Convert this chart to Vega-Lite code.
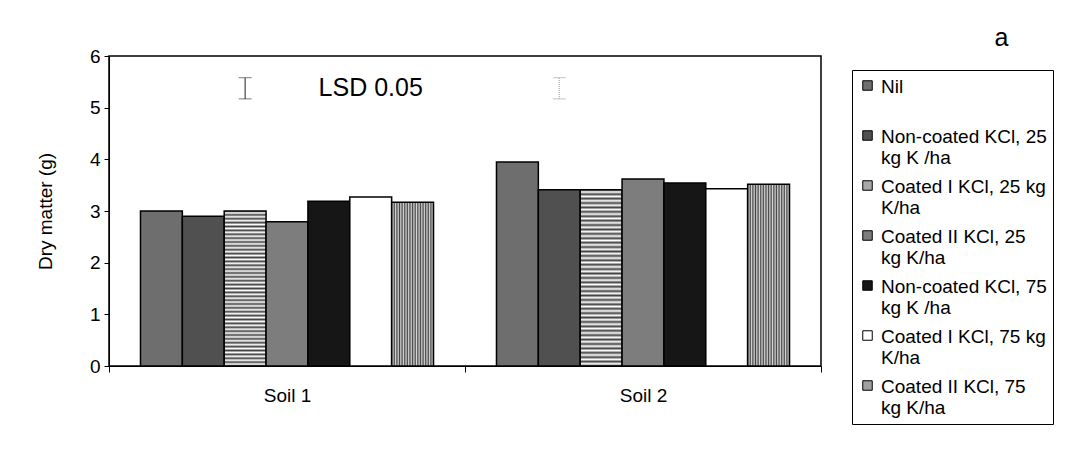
{
  "$schema": "https://vega.github.io/schema/vega-lite/v6.json",
  "width": 712,
  "height": 310,
  "autosize": "none",
  "padding": {"left": 109, "top": 56, "right": 257, "bottom": 89},
  "background": "white",
  "config": {
    "font": "Liberation Sans",
    "view": {"stroke": "black", "strokeWidth": 1.5},
    "axis": {"grid": false, "domainColor": "black", "tickColor": "black", "labelColor": "black", "titleColor": "black", "labelFontSize": 19, "titleFontSize": 19, "titleFontWeight": "normal", "labelFont": "Liberation Sans", "titleFont": "Liberation Sans"},
    "axisY": {"tickSize": 5, "labelPadding": 4, "titlePadding": 34},
    "axisX": {"tickSize": 6, "labelPadding": 14, "labelAngle": 0, "tickBand": "extent"}
  },
  "title": {"text": "a", "anchor": "end", "fontSize": 25, "fontWeight": "normal", "dx": -45, "dy": 14, "offset": 10, "color": "black", "font": "Liberation Sans"},
  "datasets": {
    "dm": [
      {"soil": "Soil 1", "treatment": "Nil", "dm": 3.00},
      {"soil": "Soil 1", "treatment": "Non-coated KCl, 25 kg K /ha", "dm": 2.90},
      {"soil": "Soil 1", "treatment": "Coated I KCl, 25 kg K/ha", "dm": 3.00},
      {"soil": "Soil 1", "treatment": "Coated II KCl, 25 kg K/ha", "dm": 2.79},
      {"soil": "Soil 1", "treatment": "Non-coated KCl, 75 kg K /ha", "dm": 3.19},
      {"soil": "Soil 1", "treatment": "Coated I KCl, 75 kg K/ha", "dm": 3.27},
      {"soil": "Soil 1", "treatment": "Coated II KCl, 75 kg K/ha", "dm": 3.17},
      {"soil": "Soil 2", "treatment": "Nil", "dm": 3.95},
      {"soil": "Soil 2", "treatment": "Non-coated KCl, 25 kg K /ha", "dm": 3.41},
      {"soil": "Soil 2", "treatment": "Coated I KCl, 25 kg K/ha", "dm": 3.41},
      {"soil": "Soil 2", "treatment": "Coated II KCl, 25 kg K/ha", "dm": 3.62},
      {"soil": "Soil 2", "treatment": "Non-coated KCl, 75 kg K /ha", "dm": 3.54},
      {"soil": "Soil 2", "treatment": "Coated I KCl, 75 kg K/ha", "dm": 3.43},
      {"soil": "Soil 2", "treatment": "Coated II KCl, 75 kg K/ha", "dm": 3.52}
    ],
    "lsd": [
      {"soil": "Soil 1", "treatment": "Coated I KCl, 25 kg K/ha", "lo": 5.17, "hi": 5.58},
      {"soil": "Soil 2", "treatment": "Non-coated KCl, 25 kg K /ha", "lo": 5.17, "hi": 5.58}
    ],
    "note": [
      {"soil": "Soil 1", "treatment": "Coated I KCl, 75 kg K/ha", "y": 5.38, "label": "LSD 0.05"}
    ]
  },
  "encoding": {
    "x": {
      "field": "soil", "type": "nominal",
      "scale": {"domain": ["Soil 1", "Soil 2"], "paddingInner": 0, "paddingOuter": 0},
      "axis": {"title": null}
    },
    "xOffset": {
      "field": "treatment", "type": "nominal",
      "scale": {
        "domain": ["Nil", "Non-coated KCl, 25 kg K /ha", "Coated I KCl, 25 kg K/ha", "Coated II KCl, 25 kg K/ha", "Non-coated KCl, 75 kg K /ha", "Coated I KCl, 75 kg K/ha", "Coated II KCl, 75 kg K/ha"],
        "paddingInner": 0, "paddingOuter": 0.752
      }
    }
  },
  "layer": [
    {
      "data": {"name": "dm"},
      "mark": {"type": "bar", "stroke": "black", "strokeWidth": 1.5},
      "encoding": {
        "y": {
          "field": "dm", "type": "quantitative", "title": "Dry matter (g)",
          "scale": {"domain": [0, 6]},
          "axis": {"values": [0, 1, 2, 3, 4, 5, 6]}
        },
        "fill": {
          "condition": [
            {"test": "datum.treatment === 'Coated I KCl, 25 kg K/ha'", "value": {"gradient": "linear", "x1": 0, "y1": 0, "x2": 0, "y2": 1, "stops": [
              {"offset": 0, "color": "#444444"}, {"offset": 0.0125, "color": "#ffffff"},
              {"offset": 0.025, "color": "#444444"}, {"offset": 0.0375, "color": "#ffffff"},
              {"offset": 0.05, "color": "#444444"}, {"offset": 0.0625, "color": "#ffffff"},
              {"offset": 0.075, "color": "#444444"}, {"offset": 0.0875, "color": "#ffffff"},
              {"offset": 0.1, "color": "#444444"}, {"offset": 0.1125, "color": "#ffffff"},
              {"offset": 0.125, "color": "#444444"}, {"offset": 0.1375, "color": "#ffffff"},
              {"offset": 0.15, "color": "#444444"}, {"offset": 0.1625, "color": "#ffffff"},
              {"offset": 0.175, "color": "#444444"}, {"offset": 0.1875, "color": "#ffffff"},
              {"offset": 0.2, "color": "#444444"}, {"offset": 0.2125, "color": "#ffffff"},
              {"offset": 0.225, "color": "#444444"}, {"offset": 0.2375, "color": "#ffffff"},
              {"offset": 0.25, "color": "#444444"}, {"offset": 0.2625, "color": "#ffffff"},
              {"offset": 0.275, "color": "#444444"}, {"offset": 0.2875, "color": "#ffffff"},
              {"offset": 0.3, "color": "#444444"}, {"offset": 0.3125, "color": "#ffffff"},
              {"offset": 0.325, "color": "#444444"}, {"offset": 0.3375, "color": "#ffffff"},
              {"offset": 0.35, "color": "#444444"}, {"offset": 0.3625, "color": "#ffffff"},
              {"offset": 0.375, "color": "#444444"}, {"offset": 0.3875, "color": "#ffffff"},
              {"offset": 0.4, "color": "#444444"}, {"offset": 0.4125, "color": "#ffffff"},
              {"offset": 0.425, "color": "#444444"}, {"offset": 0.4375, "color": "#ffffff"},
              {"offset": 0.45, "color": "#444444"}, {"offset": 0.4625, "color": "#ffffff"},
              {"offset": 0.475, "color": "#444444"}, {"offset": 0.4875, "color": "#ffffff"},
              {"offset": 0.5, "color": "#444444"}, {"offset": 0.5125, "color": "#ffffff"},
              {"offset": 0.525, "color": "#444444"}, {"offset": 0.5375, "color": "#ffffff"},
              {"offset": 0.55, "color": "#444444"}, {"offset": 0.5625, "color": "#ffffff"},
              {"offset": 0.575, "color": "#444444"}, {"offset": 0.5875, "color": "#ffffff"},
              {"offset": 0.6, "color": "#444444"}, {"offset": 0.6125, "color": "#ffffff"},
              {"offset": 0.625, "color": "#444444"}, {"offset": 0.6375, "color": "#ffffff"},
              {"offset": 0.65, "color": "#444444"}, {"offset": 0.6625, "color": "#ffffff"},
              {"offset": 0.675, "color": "#444444"}, {"offset": 0.6875, "color": "#ffffff"},
              {"offset": 0.7, "color": "#444444"}, {"offset": 0.7125, "color": "#ffffff"},
              {"offset": 0.725, "color": "#444444"}, {"offset": 0.7375, "color": "#ffffff"},
              {"offset": 0.75, "color": "#444444"}, {"offset": 0.7625, "color": "#ffffff"},
              {"offset": 0.775, "color": "#444444"}, {"offset": 0.7875, "color": "#ffffff"},
              {"offset": 0.8, "color": "#444444"}, {"offset": 0.8125, "color": "#ffffff"},
              {"offset": 0.825, "color": "#444444"}, {"offset": 0.8375, "color": "#ffffff"},
              {"offset": 0.85, "color": "#444444"}, {"offset": 0.8625, "color": "#ffffff"},
              {"offset": 0.875, "color": "#444444"}, {"offset": 0.8875, "color": "#ffffff"},
              {"offset": 0.9, "color": "#444444"}, {"offset": 0.9125, "color": "#ffffff"},
              {"offset": 0.925, "color": "#444444"}, {"offset": 0.9375, "color": "#ffffff"},
              {"offset": 0.95, "color": "#444444"}, {"offset": 0.9625, "color": "#ffffff"},
              {"offset": 0.975, "color": "#444444"}, {"offset": 0.9875, "color": "#ffffff"},
              {"offset": 1, "color": "#444444"}
            ]}},
            {"test": "datum.treatment === 'Coated II KCl, 75 kg K/ha'", "value": {"gradient": "linear", "x1": 0, "y1": 0, "x2": 1, "y2": 0, "stops": [
              {"offset": 0, "color": "#444444"}, {"offset": 0.03125, "color": "#d8d8d8"},
              {"offset": 0.0625, "color": "#444444"}, {"offset": 0.09375, "color": "#d8d8d8"},
              {"offset": 0.125, "color": "#444444"}, {"offset": 0.15625, "color": "#d8d8d8"},
              {"offset": 0.1875, "color": "#444444"}, {"offset": 0.21875, "color": "#d8d8d8"},
              {"offset": 0.25, "color": "#444444"}, {"offset": 0.28125, "color": "#d8d8d8"},
              {"offset": 0.3125, "color": "#444444"}, {"offset": 0.34375, "color": "#d8d8d8"},
              {"offset": 0.375, "color": "#444444"}, {"offset": 0.40625, "color": "#d8d8d8"},
              {"offset": 0.4375, "color": "#444444"}, {"offset": 0.46875, "color": "#d8d8d8"},
              {"offset": 0.5, "color": "#444444"}, {"offset": 0.53125, "color": "#d8d8d8"},
              {"offset": 0.5625, "color": "#444444"}, {"offset": 0.59375, "color": "#d8d8d8"},
              {"offset": 0.625, "color": "#444444"}, {"offset": 0.65625, "color": "#d8d8d8"},
              {"offset": 0.6875, "color": "#444444"}, {"offset": 0.71875, "color": "#d8d8d8"},
              {"offset": 0.75, "color": "#444444"}, {"offset": 0.78125, "color": "#d8d8d8"},
              {"offset": 0.8125, "color": "#444444"}, {"offset": 0.84375, "color": "#d8d8d8"},
              {"offset": 0.875, "color": "#444444"}, {"offset": 0.90625, "color": "#d8d8d8"},
              {"offset": 0.9375, "color": "#444444"}, {"offset": 0.96875, "color": "#d8d8d8"},
              {"offset": 1, "color": "#444444"}
            ]}}
          ],
          "field": "treatment", "type": "nominal",
          "scale": {
            "domain": ["Nil", "Non-coated KCl, 25 kg K /ha", "Coated I KCl, 25 kg K/ha", "Coated II KCl, 25 kg K/ha", "Non-coated KCl, 75 kg K /ha", "Coated I KCl, 75 kg K/ha", "Coated II KCl, 75 kg K/ha"],
            "range": ["#6e6e6e", "#505050", "#a8a8a8", "#7d7d7d", "#161616", "#ffffff", "#a0a0a0"]
          },
          "legend": {
            "title": null, "orient": "none", "legendX": 743, "legendY": 14,
            "strokeColor": "black", "fillColor": "white", "padding": 6,
            "symbolType": "square", "symbolSize": 90, "symbolStrokeColor": "black", "symbolStrokeWidth": 1,
            "labelFontSize": 19, "labelColor": "black", "labelLimit": 0, "labelFont": "Liberation Sans", "labelOffset": 4,
            "rowPadding": 8, "labelBaseline": "top",
            "labelExpr": "datum.value === 'Nil' ? ['Nil', ' '] : datum.value === 'Non-coated KCl, 25 kg K /ha' ? ['Non-coated KCl, 25', 'kg K /ha'] : datum.value === 'Coated I KCl, 25 kg K/ha' ? ['Coated I KCl, 25 kg', 'K/ha'] : datum.value === 'Coated II KCl, 25 kg K/ha' ? ['Coated II KCl, 25', 'kg K/ha'] : datum.value === 'Non-coated KCl, 75 kg K /ha' ? ['Non-coated KCl, 75', 'kg K /ha'] : datum.value === 'Coated I KCl, 75 kg K/ha' ? ['Coated I KCl, 75 kg', 'K/ha'] : ['Coated II KCl, 75', 'kg K/ha']",
            "encode": {"labels": {"update": {"lineHeight": {"value": 21}, "dy": {"value": -8}}}}
          }
        }
      }
    },
    {
      "data": {"name": "lsd"},
      "mark": {"type": "rule", "strokeWidth": 1.2},
      "encoding": {
        "y": {"field": "lo", "type": "quantitative", "title": "Dry matter (g)"},
        "y2": {"field": "hi"},
        "stroke": {"condition": {"test": "datum.soil === 'Soil 2'", "value": "#aaaaaa"}, "value": "#444444"},
        "strokeDash": {"condition": {"test": "datum.soil === 'Soil 2'", "value": [1, 1]}, "value": [1, 0]}
      }
    },
    {
      "data": {"name": "lsd"},
      "mark": {"type": "tick", "size": 13, "thickness": 1, "orient": "horizontal"},
      "encoding": {
        "y": {"field": "lo", "type": "quantitative", "title": "Dry matter (g)"},
        "color": {"condition": {"test": "datum.soil === 'Soil 2'", "value": "#aaaaaa"}, "value": "#444444"}
      }
    },
    {
      "data": {"name": "lsd"},
      "mark": {"type": "tick", "size": 13, "thickness": 1, "orient": "horizontal"},
      "encoding": {
        "y": {"field": "hi", "type": "quantitative", "title": "Dry matter (g)"},
        "color": {"condition": {"test": "datum.soil === 'Soil 2'", "value": "#aaaaaa"}, "value": "#444444"}
      }
    },
    {
      "data": {"name": "note"},
      "mark": {"type": "text", "fontSize": 25, "color": "black", "font": "Liberation Sans"},
      "encoding": {
        "y": {"field": "y", "type": "quantitative", "title": "Dry matter (g)"},
        "text": {"field": "label"}
      }
    }
  ]
}
